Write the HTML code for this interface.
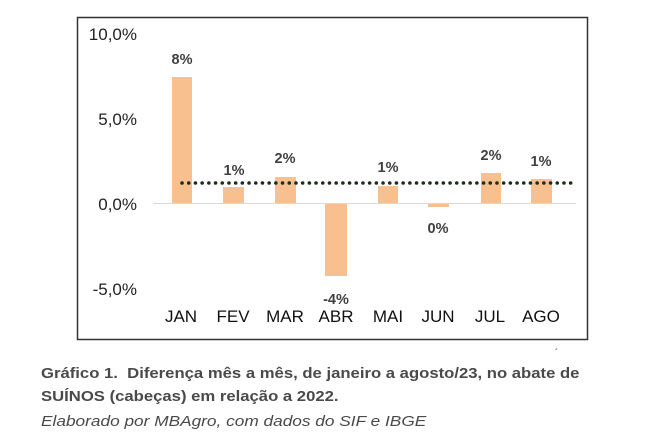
<!DOCTYPE html>
<html><head><meta charset="utf-8"><style>
body{margin:0;background:#fff;width:652px;height:442px;overflow:hidden;font-family:"Liberation Sans",sans-serif}
.cap{position:absolute;left:41px;font-size:14.5px;color:#4a4a4a;white-space:nowrap;transform:scaleX(1.15);transform-origin:0 0}
</style></head><body>
<svg width="652" height="442" style="position:absolute;left:0;top:0" font-family="Liberation Sans, sans-serif">
<rect x="77.5" y="17.5" width="510" height="322" fill="#fff" stroke="#333" stroke-width="1.5"/>
<g font-size="17" fill="#222" text-anchor="end">
<text x="137" y="40">10,0%</text>
<text x="137" y="125">5,0%</text>
<text x="137" y="210">0,0%</text>
<text x="137" y="295">-5,0%</text>
</g>
<line x1="153" y1="203.5" x2="576" y2="203.5" stroke="#d9d9d9" stroke-width="1"/>
<g fill="#f8bf8f">
<rect x="172" y="77" width="20" height="126"/>
<rect x="223" y="187" width="21" height="16"/>
<rect x="275" y="177" width="21" height="26"/>
<rect x="325" y="204" width="22" height="72"/>
<rect x="378" y="186" width="20" height="17"/>
<rect x="428" y="204" width="21" height="3"/>
<rect x="481" y="173" width="20" height="30"/>
<rect x="531" y="179" width="21" height="24"/>
</g>
<line x1="182" y1="183" x2="577" y2="183" stroke="#1f2a1f" stroke-width="3.5" stroke-dasharray="0.1 6.6" stroke-linecap="round"/>
<g font-size="14.5" font-weight="bold" fill="#404040" text-anchor="middle">
<text x="182" y="64">8%</text>
<text x="234" y="175">1%</text>
<text x="285" y="163">2%</text>
<text x="336" y="304">-4%</text>
<text x="388" y="172">1%</text>
<text x="438" y="233">0%</text>
<text x="491" y="160">2%</text>
<text x="541" y="166">1%</text>
</g>
<g font-size="17" fill="#111" text-anchor="middle">
<text x="181" y="322">JAN</text>
<text x="233" y="322">FEV</text>
<text x="285" y="322">MAR</text>
<text x="336" y="322">ABR</text>
<text x="388" y="322">MAI</text>
<text x="438" y="322">JUN</text>
<text x="490" y="322">JUL</text>
<text x="541" y="322">AGO</text>
</g>
<text x="555" y="356" font-size="10" fill="#333">´</text>
</svg>
<div class="cap" style="top:366px;font-weight:bold">Gráfico 1.&nbsp; Diferença mês a mês, de janeiro a agosto/23, no abate de</div>
<div class="cap" style="top:389px;font-weight:bold">SUÍNOS (cabeças) em relação a 2022.</div>
<div class="cap" style="top:414px;font-style:italic;transform:scaleX(1.19)">Elaborado por MBAgro, com dados do SIF e IBGE</div>
</body></html>
